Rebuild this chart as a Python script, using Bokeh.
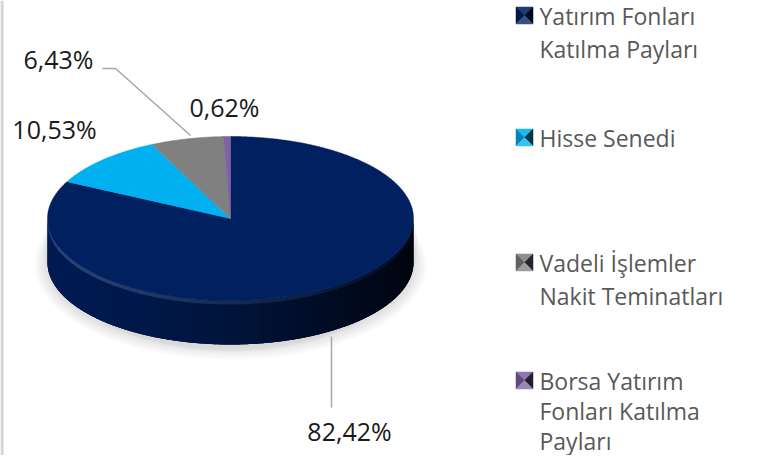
import numpy as np
from bokeh.plotting import figure
from bokeh.models import Range1d
from bokeh.core.properties import value
from bokeh.embed import file_html
from bokeh.resources import INLINE

# ---------------- data ----------------
categories = ["Yatırım Fonları Katılma Payları", "Hisse Senedi",
              "Vadeli İşlemler Nakit Teminatları", "Borsa Yatırım Fonları Katılma Payları"]
legend_lines = [["Yatırım Fonları", "Katılma Payları"],
                ["Hisse Senedi"],
                ["Vadeli İşlemler", "Nakit Teminatları"],
                ["Borsa Yatırım", "Fonları Katılma", "Payları"]]
shares = [82.42, 10.53, 6.43, 0.62]
label_texts = ["82,42%", "10,53%", "6,43%", "0,62%"]
colors = ["#002060", "#00B0F0", "#808080", "#7F62A3"]

# ---------------- layout (pixel coordinates of the picture) ----------------
W, H = 748, 455
FONT = value("Open Sans")
cx, cy, rx, ry, depth = 230.0, 218.0, 183.0, 82.0, 44.0
label_pos = [(349, 430), (54, 128), (58, 58), (224, 106)]
leaders = {0: ([331, 331], [336, 407]), 2: ([102, 115, 190], [68, 68, 135])}
legend_x_marker, legend_x_text, legend_size = 524, 539, 17
legend_tops = [15, 137, 262, 380]
line_gaps = [33, 33, 33, 30]


def hex2rgb(h):
    h = h.lstrip("#")
    return np.array([int(h[i:i + 2], 16) for i in (0, 2, 4)], dtype=float)


def rgb2hex(c):
    c = np.clip(np.round(c), 0, 255).astype(int)
    return "#%02x%02x%02x" % tuple(c)


def mix(a, b, t):
    return a * (1 - t) + b * t


WHITE = np.array([255.0, 255.0, 255.0])

p = figure(width=W, height=H, output_backend="svg", toolbar_location=None,
           x_range=Range1d(0, W), y_range=Range1d(H, 0),
           min_border=0)
p.axis.visible = False
p.grid.visible = False
p.outline_line_color = None
p.background_fill_color = "white"
p.border_fill_color = "white"

# left border stripe
p.segment(x0=[1.5], y0=[0], x1=[1.5], y1=[H], line_color="#D4D4D4", line_width=3)

# ---------------- shadow ----------------
for k in range(6):
    grow = 2 + k * 2.2
    p.ellipse(x=[cx], y=[cy + depth + 2], width=[2 * rx + grow * 2],
              height=[2 * ry + grow * 2], fill_color="#000000", fill_alpha=0.02,
              line_color=None)
p.ellipse(x=[cx], y=[cy + depth / 2 + 4], width=[2 * rx + 8],
          height=[2 * ry + depth + 6], fill_color="#000000", fill_alpha=0.03,
          line_color=None)

# ---------------- slice angles (deg, clockwise from 12 o'clock) ----------------
total = float(sum(shares))
bounds = np.concatenate([[0.0], np.cumsum(np.array(shares) / total * 360.0)])


def slice_of(theta):
    for i in range(len(shares)):
        if bounds[i] <= theta < bounds[i + 1]:
            return i
    return len(shares) - 1


def ex(theta):
    return cx + rx * np.sin(np.radians(theta))


def ey(theta):
    return cy - ry * np.cos(np.radians(theta))


# ---------------- side wall (front half) ----------------
arc = np.linspace(90.0, 270.0, 181)
p.patch(np.concatenate([ex(arc), ex(arc[::-1])]),
        np.concatenate([ey(arc), ey(arc[::-1]) + depth]),
        fill_color="#00143f", line_color=None)

sx, sy, sc = [], [], []
step = 1.5
thetas = np.arange(90.0, 270.0, step)
for ta in thetas:
    tb = min(ta + step * 1.8, 270.0)
    mid = ta + step / 2
    base = hex2rgb(colors[slice_of(mid)])
    t = (np.sin(np.radians(mid)) + 1) / 2  # 0 left, 1 right
    a = np.linspace(ta, tb, 4)
    xs_top = ex(a)
    ys_top = ey(a)
    body = mix(base * 0.85, base * 0.15, t ** 1.5)
    rim = mix(mix(base, WHITE, 0.17), base * 0.35, t ** 1.1)
    sx.append(list(np.concatenate([xs_top, xs_top[::-1]])))
    sy.append(list(np.concatenate([ys_top + 3, ys_top[::-1] + depth])))
    sc.append(rgb2hex(body))
    sx.append(list(np.concatenate([xs_top, xs_top[::-1]])))
    sy.append(list(np.concatenate([ys_top, ys_top[::-1] + 4])))
    sc.append(rgb2hex(rim))
p.patches(xs=sx, ys=sy, fill_color=sc, line_color=None)

# ---------------- top faces ----------------
for i in range(len(shares)):
    a = np.linspace(bounds[i], bounds[i + 1], max(4, int((bounds[i + 1] - bounds[i]) * 2)))
    xs = np.concatenate([[cx], ex(a), [cx]])
    ys = np.concatenate([[cy], ey(a), [cy]])
    p.patch(xs, ys, fill_color=colors[i], line_color=colors[i], line_width=0.5)

# ---------------- leader lines & labels ----------------
for i, (lx, ly) in leaders.items():
    p.line(lx, ly, line_color="#A6A6A6", line_width=1.5)
for i in range(len(shares)):
    x, y = label_pos[i]
    p.text(x=[x], y=[y], text=[label_texts[i]], text_font=FONT,
           text_font_size="25px", text_color="#1A1A1A",
           text_align="center", text_baseline="middle")

# ---------------- legend ----------------
for i in range(len(categories)):
    base = hex2rgb(colors[i])
    mx, my, s = legend_x_marker, legend_tops[i], legend_size / 2
    x0, x1, y0, y1 = mx - s, mx + s, my - s, my + s
    tri_x = [[x0, x1, mx], [x0, mx, x0], [x1, x1, mx], [x0, x1, mx]]
    tri_y = [[y0, y0, my], [y0, my, y1], [y0, y1, my], [y1, y1, my]]
    shades = [rgb2hex(mix(base, WHITE, 0.12)), rgb2hex(base * 0.75),
              rgb2hex(base * 0.3), rgb2hex(mix(base, WHITE, 0.22))]
    p.patches(xs=tri_x, ys=tri_y, fill_color=shades, line_color=shades, line_width=0.5)
    for j, line in enumerate(legend_lines[i]):
        p.text(x=[legend_x_text], y=[my + j * line_gaps[i]], text=[line], text_font=FONT,
               text_font_size="23px", text_color="#595959",
               text_align="left", text_baseline="middle")

open("out.html", "w").write(file_html(p, INLINE))
